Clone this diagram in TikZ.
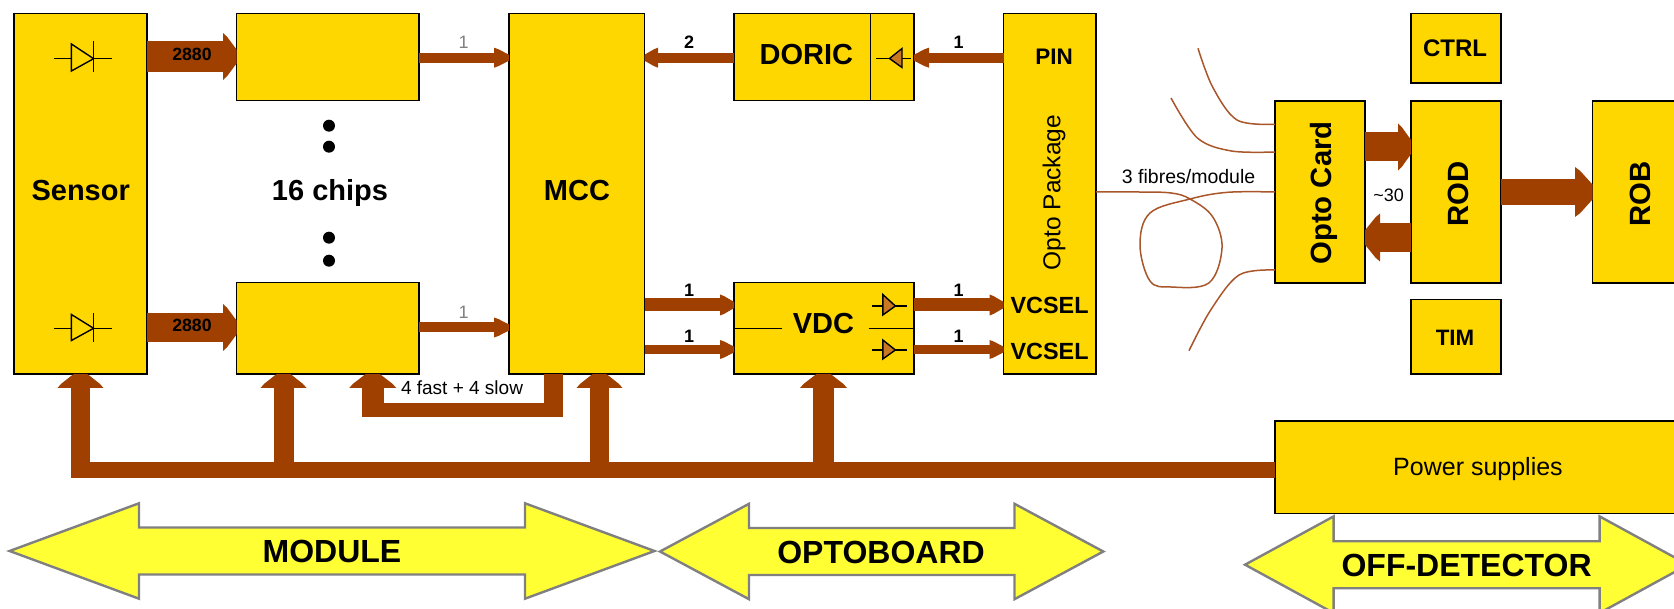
\documentclass[tikz,border=0pt]{standalone}
\usepackage{fontspec}
\setmainfont{Liberation Sans}
\usetikzlibrary{arrows.meta,fit}
\definecolor{boxy}{HTML}{FFD700}
\definecolor{busc}{HTML}{A04000}
\definecolor{fibre}{HTML}{A8562A}
\definecolor{yel}{HTML}{FFFF33}
\definecolor{gry}{HTML}{808080}
\definecolor{dio}{HTML}{C87820}
\pgfdeclarearrow{
  name=Blk,
  parameters={\the\pgfarrowlength,\the\pgfarrowwidth},
  setup code={
    \pgfarrowssettipend{\pgfarrowlength}
    \pgfarrowssetlineend{1pt}
    \pgfarrowssetvisualbackend{0pt}
    \pgfarrowssetbackend{0pt}
    \pgfarrowshullpoint{0pt}{.5\pgfarrowwidth}
    \pgfarrowshullpoint{0pt}{-.5\pgfarrowwidth}
    \pgfarrowshullpoint{\pgfarrowlength}{.15\pgfarrowwidth}
    \pgfarrowshullpoint{\pgfarrowlength}{-.15\pgfarrowwidth}
    \pgfarrowssavethe\pgfarrowlength
    \pgfarrowssavethe\pgfarrowwidth
  },
  drawing code={
    \pgfpathmoveto{\pgfqpoint{0pt}{.5\pgfarrowwidth}}
    \pgfpathlineto{\pgfqpoint{.3\pgfarrowlength}{.42\pgfarrowwidth}}
    \pgfpathlineto{\pgfqpoint{\pgfarrowlength}{.15\pgfarrowwidth}}
    \pgfpathlineto{\pgfqpoint{\pgfarrowlength}{-.15\pgfarrowwidth}}
    \pgfpathlineto{\pgfqpoint{.3\pgfarrowlength}{-.42\pgfarrowwidth}}
    \pgfpathlineto{\pgfqpoint{0pt}{-.5\pgfarrowwidth}}
    \pgfpathclose
    \pgfusepathqfill
  },
  defaults={length=14pt,width=46pt}
}
\tikzset{
 box/.style={draw=black,fill=boxy,line width=1.4pt,inner sep=0pt,outer sep=0pt},
 tr/.style={inner sep=0pt,font=\fontsize{#1}{#1}\selectfont},
 tb/.style={inner sep=0pt,font=\fontsize{#1}{#1}\selectfont\bfseries},
 bus/.style n args={3}{draw=busc,line width=#1pt,-{Blk[length=#2pt,width=#3pt]}},
 fib/.style={draw=fibre,line width=1.5pt},
 dbl/.style={draw=gry,fill=yel,line width=2.4pt,line join=miter},
 diode/.style={draw=black,line width=1.4pt},
 wire/.style={draw=black,line width=1.4pt},
}
\newcommand{\bx}[5]{\node[box,fit={(#2,#3)(#4,#5)}] (#1) {};}
\newcommand{\dbarrow}[7]{% left tip, left inner, right inner, right tip, head half, shaft half, centre y
 \draw[dbl] (#1,#7) -- (#2,#7-#5) -- (#2,#7-#6) -- (#3,#7-#6) -- (#3,#7-#5) -- (#4,#7)
   -- (#3,#7+#5) -- (#3,#7+#6) -- (#2,#7+#6) -- (#2,#7+#5) -- cycle;}
\begin{document}
\begin{tikzpicture}[x=1pt,y=-1pt]
\useasboundingbox (0,0) rectangle (1674,609);
\clip (0,0) rectangle (1674,609);
% boxes
\bx{sensor}{14}{13.5}{147}{374}
\bx{chipa}{236.5}{13.5}{419}{100.5}
\bx{chipb}{236.5}{282.5}{419}{374}
\bx{mcc}{509}{13.5}{644.5}{374}
\bx{doric}{734}{13.5}{914}{100.5}
\bx{vdc}{734}{282.5}{914}{374}
\bx{opkg}{1003.5}{13.5}{1096}{374}
\bx{ocard}{1275}{101}{1365}{283}
\bx{ctrl}{1411}{13.5}{1501}{83}
\bx{rod}{1411}{101}{1501}{283}
\bx{tim}{1411}{299.5}{1501}{374}
\bx{rob}{1592.5}{101}{1690}{283}
\bx{power}{1275}{421}{1690}{513.5}
% internal details
\draw[wire,line width=1pt] (doric.north -| 870,0) -- (doric.south -| 870,0);
\coordinate (vl) at (781.5,328.7);
\coordinate (vr) at (868.5,328.7);
\draw[wire] (vdc.west |- vl) -- (vl);
\draw[wire] (vr) -- (vdc.east |- vr);
% diodes
\draw[diode,line width=1pt] (53.6,58.7) -- (111.8,58.7);
\draw[diode,fill=boxy] (71.4,44) -- (93.6,58.7) -- (71.4,71) -- cycle;
\draw[diode] (93.6,41) -- (93.6,72.5);
\draw[diode] (53.6,328.3) -- (111.8,328.3);
\draw[diode,fill=boxy] (71.4,314.5) -- (93.6,328.3) -- (71.4,340.5) -- cycle;
\draw[diode] (93.6,313) -- (93.6,342.5);
\draw[diode,line width=1pt] (876.4,58.7) -- (911,58.7);
\draw[diode,fill=dio] (902,48.5) -- (889.5,58.5) -- (902,67.5) -- cycle;
\draw[diode] (871.7,306) -- (907,306);
\draw[diode,fill=dio] (882.8,294.5) -- (895.4,306) -- (882.8,315) -- cycle;
\draw[diode] (871.7,350) -- (907,350);
\draw[diode,fill=dio] (882.8,340) -- (895.4,350) -- (882.8,359) -- cycle;
% dots
\foreach \n/\y in {da/125.7,db/146.7,dc/237.7,dd/260.7}
  \node[circle,fill=black,minimum size=12pt,inner sep=0pt] (\n) at (329,\y) {};
% horizontal block connectors
\draw[bus={31}{13.5}{47}] (sensor.east |- 0,56.5) -- (chipa.west |- 0,56.5);
\draw[bus={29}{13.5}{47}] (sensor.east |- 0,327.5) -- (chipb.west |- 0,327.5);
\draw[bus={10}{15}{20}] (chipa.east |- 0,57.7) -- (mcc.west |- 0,57.7);
\draw[bus={10}{15}{20}] (chipb.east |- 0,327.5) -- (mcc.west |- 0,327.5);
\draw[bus={10}{13.5}{20}] (doric.west |- 0,57.7) -- (mcc.east |- 0,57.7);
\draw[bus={10}{15}{20}] (opkg.west |- 0,57.7) -- (doric.east |- 0,57.7);
\draw[bus={13}{14}{21}] (mcc.east |- 0,305) -- (vdc.west |- 0,305);
\draw[bus={9}{14}{19}] (mcc.east |- 0,349.5) -- (vdc.west |- 0,349.5);
\draw[bus={13}{14}{21}] (vdc.east |- 0,305) -- (opkg.west |- 0,305);
\draw[bus={9}{14}{19}] (vdc.east |- 0,349.5) -- (opkg.west |- 0,349.5);
\draw[bus={29}{13}{47}] (ocard.east |- 0,147) -- (rod.west |- 0,147);
\draw[bus={29}{15}{48}] (rod.west |- 0,237.5) -- (ocard.east |- 0,237.5);
\draw[bus={26.5}{17.5}{50}] (rod.east |- 0,192) -- (rob.west |- 0,192);
% power bus
\coordinate (busl) at (71,469.7);
\draw[draw=busc,line width=16pt] (busl) -- (power.west |- busl);
\draw[bus={19}{14}{46}] (80.5,477.7) -- (sensor.south -| 80.5,0);
\draw[bus={20}{14}{46}] (283.5,477.7) -- (chipb.south -| 283.5,0);
\draw[bus={19}{14}{46}] (599.5,477.7) -- (mcc.south -| 599.5,0);
\draw[bus={21}{14}{47}] (823.5,477.7) -- (vdc.south -| 823.5,0);
\coordinate (fa) at (553.5,410);
\coordinate (fb) at (372.75,410);
\draw[draw=busc,line width=14pt,line join=miter] (mcc.south -| fa) -- (fa) -- (362,410);
\draw[draw=busc,line width=19pt] (553.5,374) -- (553.5,417);
\draw[bus={21.5}{14}{47}] (372.75,417) -- (chipb.south -| fb);
% fibres
\draw[fib] plot[smooth,tension=.6] coordinates {(opkg.east |- 0,192) (1138.7,192) (1171,193) (1190,199) (1212.6,216.7) (1222,248) (1208.8,283) (1171,287) (1150,281) (1140,245) (1150,213) (1190,199) (1227.7,192.3) (ocard.west |- 0,192)};
\coordinate (fta) at (1198,48.3);
\coordinate (ftb) at (1171,98);
\coordinate (ftc) at (1189,350.7);
\draw[fib] plot[smooth,tension=.55] coordinates {(fta) (1212.6,87) (1237,120) (ocard.west |- 0,124.3)};
\draw[fib] plot[smooth,tension=.55] coordinates {(ftb) (1197.4,138) (1231.5,151) (ocard.west |- 0,152)};
\draw[fib] plot[smooth,tension=.55] coordinates {(ftc) (1210.7,310) (1239,275) (ocard.west |- 0,270)};
% double arrows
\dbarrow{9.6}{139}{525}{654.5}{47.7}{23.5}{551}
\dbarrow{660}{749}{1014.5}{1103.3}{47.7}{23.5}{551.5}
\dbarrow{1245}{1333.6}{1599.6}{1688}{48.3}{23.5}{564.7}
% texts
\node[tb=29] (tsensor) at (80.7,191) {Sensor};
\node[tb=29] (tchips) at (330,193) {16 chips};
\node[tb=29] (tmcc) at (577,191) {MCC};
\node[tb=29] (tdoric) at (806.4,54.5) {DORIC};
\node[tb=29] (tvdc) at (823.4,324) {VDC};
\node[tb=22.5] (tpin) at (1054,57) {PIN};
\node[tb=23.4] (tv1) at (1049.6,305) {VCSEL};
\node[tb=23.4] (tv2) at (1049.6,351) {VCSEL};
\node[tr=24.5,rotate=90] (tpkg) at (1054,192.5) {Opto Package};
\node[tb=29.3,rotate=90] (tcard) at (1324,193) {Opto Card};
\node[tb=29.3,rotate=90] (trod) at (1458,194) {ROD};
\node[tb=29.3,rotate=90] (trob) at (1640,194) {ROB};
\node[tb=24] (tctrl) at (1455,48) {CTRL};
\node[tb=22.3] (ttim) at (1455,338) {TIM};
\node[tr=25] (tpower) at (1478,469) {Power supplies};
\node[tb=17.7] (n2880a) at (192,54.7) {2880};
\node[tb=17.7] (n2880b) at (192,325) {2880};
\node[tr=18,text=gray] (nca) at (463.6,42) {1};
\node[tr=18,text=gray] (ncb) at (463.6,312) {1};
\node[tb=18] (ndo) at (689,42) {2};
\node[tb=18] (npin) at (958.7,42) {1};
\node[tb=18] (nv1) at (689,290) {1};
\node[tb=18] (nv2) at (689,336) {1};
\node[tb=18] (nv3) at (958.7,290) {1};
\node[tb=18] (nv4) at (958.7,336) {1};
\node[tr=19] (tfast) at (462,388) {4 fast + 4 slow};
\node[tr=19.5] (tfib) at (1188.6,176.7) {3 fibres/module};
\node[tr=18] (t30) at (1388.7,195) {\char`\~30};
\node[tb=32] (tmod) at (332,551.7) {MODULE};
\node[tb=32] (topt) at (881,552.7) {OPTOBOARD};
\node[tb=32] (toff) at (1466.6,565.7) {OFF-DETECTOR};
\end{tikzpicture}
\end{document}
